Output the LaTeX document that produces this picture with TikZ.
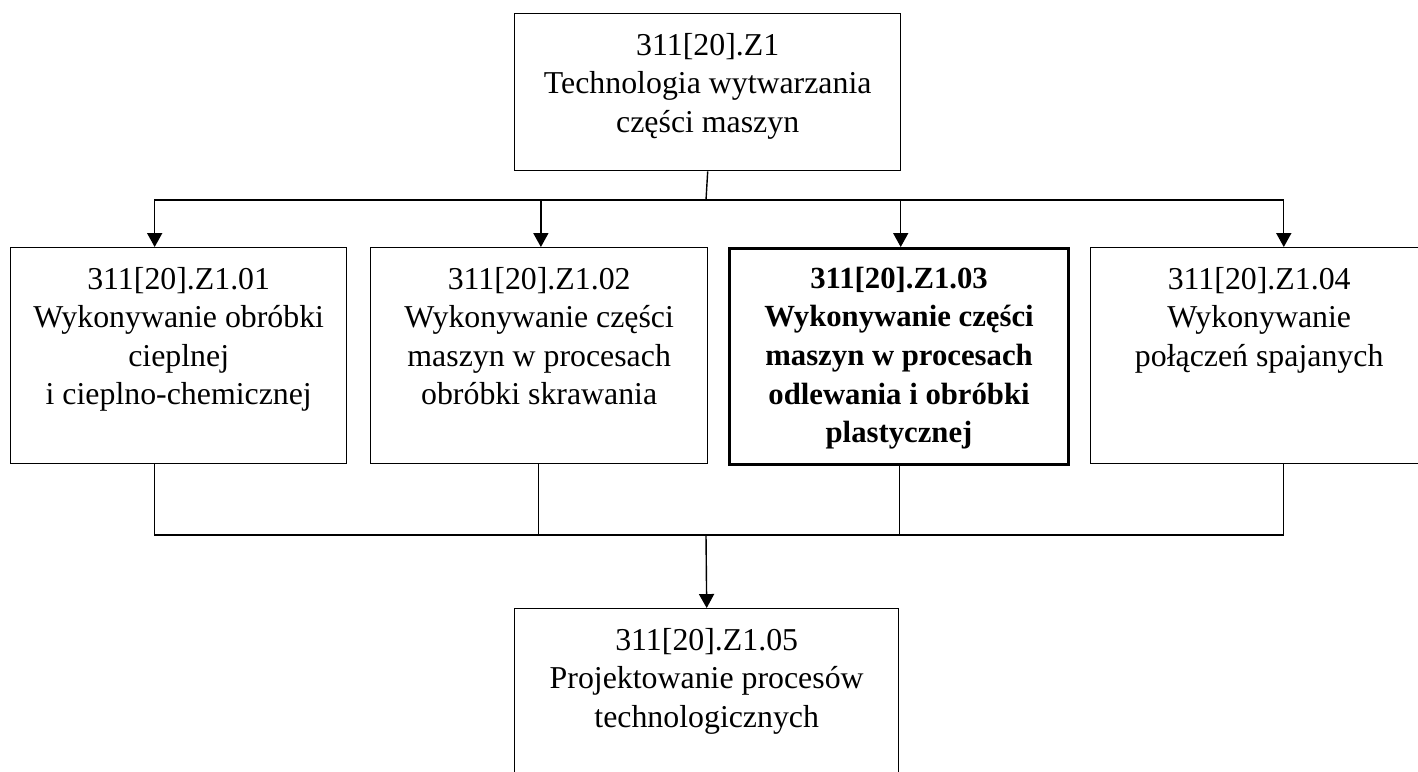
\documentclass[tikz,border=0pt]{standalone}
\usepackage{fontspec}
\setmainfont{Liberation Serif}
\usetikzlibrary{arrows.meta,positioning,calc}

\begin{document}
\begin{tikzpicture}[x=0.358pt,y=-0.358pt]
        \tikzset{
            unit/.style={draw, line width=0.5pt, anchor=north west, inner sep=0pt,
                minimum width=#1*0.358pt, minimum height=216*0.358pt},
            txt/.style={anchor=north, align=center, inner sep=0pt, yshift=-7pt,
                font=\fontsize{11.4}{13.8}\selectfont},
            link/.style={line width=0.5pt},
            arr/.style={line width=0.5pt, -{Triangle[length=5pt,width=5.4pt]}}
        }
        \clip (0,0) rectangle (1418,771);
        % modules
        \node[unit=386, minimum height=157*0.358pt,
            label={[txt]north:311[20].Z1\\Technologia wytwarzania\\części maszyn}]
            (top) at (514,13) {};
        \node[unit=336,
            label={[txt]north:311[20].Z1.01\\Wykonywanie obróbki\\cieplnej\\i cieplno-chemicznej}]
            (m1) at (10,247) {};
        \node[unit=337,
            label={[txt]north:311[20].Z1.02\\Wykonywanie części\\maszyn w procesach\\obróbki skrawania}]
            (m2) at (370,247) {};
        \node[unit=339, line width=1.1pt,
            label={[txt, font=\fontsize{11}{13.8}\selectfont\bfseries]north:311[20].Z1.03\\Wykonywanie części\\maszyn w procesach\\odlewania i obróbki\\plastycznej}]
            (m3) at (728,247) {};
        \node[unit=337,
            label={[txt]north:311[20].Z1.04\\Wykonywanie\\połączeń spajanych}]
            (m4) at (1090,247) {};
        \node[unit=384,
            label={[txt]north:311[20].Z1.05\\Projektowanie procesów\\technologicznych}]
            (m5) at (514,608) {};
        % connectors
        \coordinate (split) at (706,200);
        \coordinate (join) at (706,535);
        \draw[link] (top.south) -- (split);
        \draw[arr] (split) -| ([xshift=-8.6pt]m1.north);
        \draw[arr] (split) -| ([xshift=0.6pt]m2.north);
        \draw[arr] (split) -| ([xshift=0.6pt]m3.north);
        \draw[arr] (split) -| ([xshift=8.8pt]m4.north);
        \draw[link] ([xshift=-8.6pt]m1.south) |- (join);
        \draw[link] ([xshift=-0.2pt]m2.south) |- (join);
        \draw[link] ([xshift=0.2pt]m3.south) |- (join);
        \draw[link] ([xshift=8.8pt]m4.south) |- (join);
        \draw[arr] (join) -- (m5.north);
\end{tikzpicture}
\end{document}
